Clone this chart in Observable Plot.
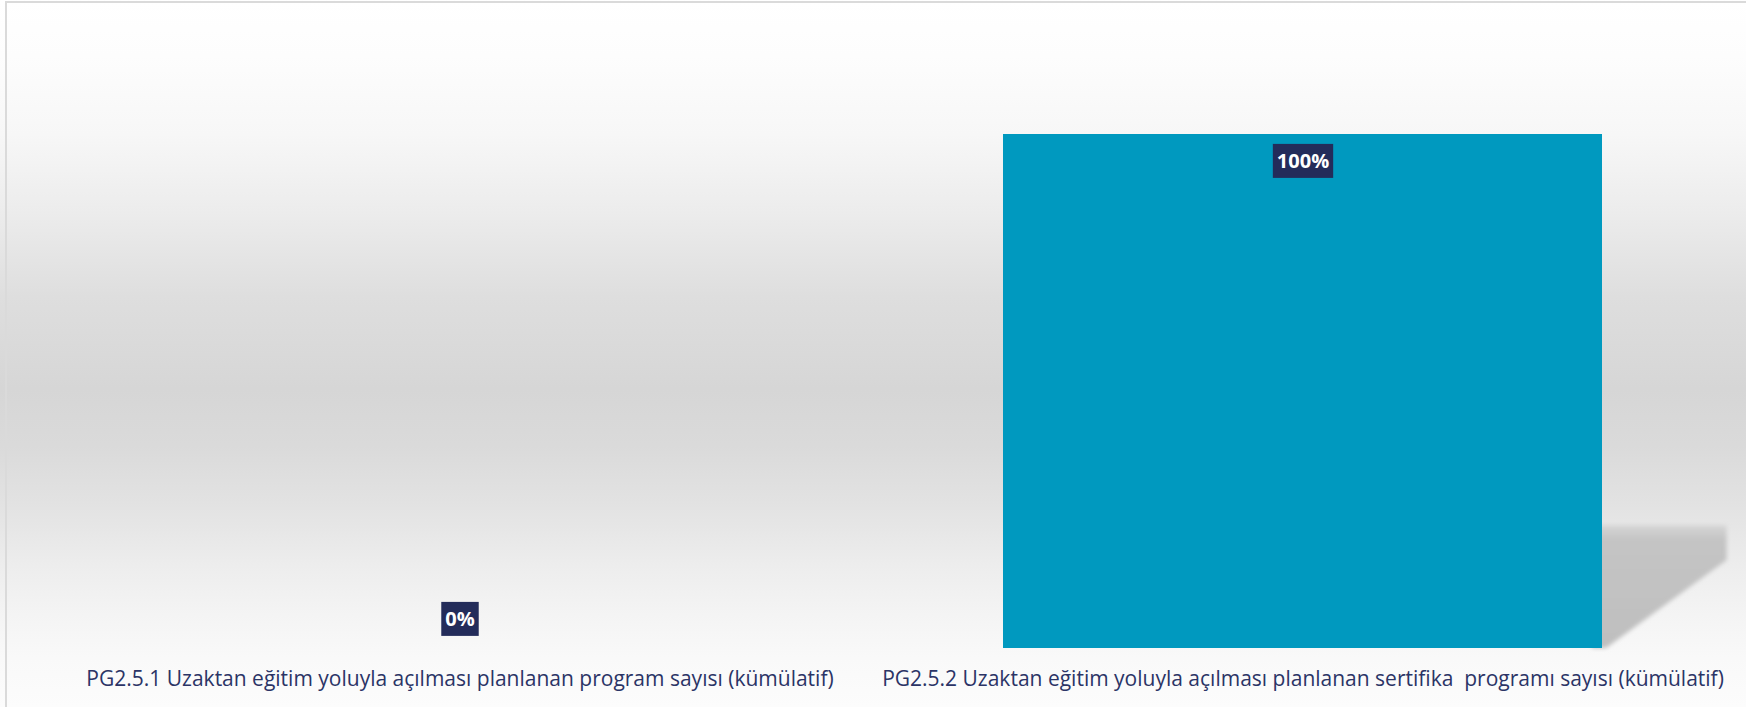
<!DOCTYPE html>
<html>
<head>
<meta charset="utf-8">
<script src="https://cdn.jsdelivr.net/npm/d3@7"></script>
<script src="https://cdn.jsdelivr.net/npm/@observablehq/plot@0.6"></script>
<style>
  html, body { margin: 0; padding: 0; background: #ffffff; }
  #wrap { position: relative; width: 1746px; height: 707px; overflow: hidden; }
  #border { position: absolute; left: 5px; top: 1px; width: 1760px; height: 720px;
            border-left: 2px solid #dadada; border-top: 2px solid #dadada; pointer-events: none; }
  svg text { white-space: pre; }
</style>
</head>
<body>
<div id="wrap"><div id="border"></div></div>
<script>
const categories = [
  "PG2.5.1 Uzaktan eğitim yoluyla açılması planlanan program sayısı (kümülatif)",
  "PG2.5.2 Uzaktan eğitim yoluyla açılması planlanan sertifika  programı sayısı (kümülatif)"
];
const values = [0, 100];
const valueLabels = ["0%", "100%"];

const data = categories.map((c, i) => ({category: c, value: values[i], label: valueLabels[i]}));

const ns = "http://www.w3.org/2000/svg";

// Excel-like perspective shadow behind the bar, derived from the rendered bar geometry
function shadowRender(index, scales, vals, dimensions, context, next) {
  const g = next(index, scales, vals, dimensions, context);
  const out = document.createElementNS(ns, "g");
  const defs = document.createElementNS(ns, "defs");
  defs.innerHTML = `
    <linearGradient id="shGrad" x1="0" y1="0" x2="0" y2="1">
      <stop offset="0" stop-color="#d6d6d6"/>
      <stop offset="0.12" stop-color="#c4c4c4"/>
      <stop offset="1" stop-color="#bfbfbf"/>
    </linearGradient>
    <filter id="shBlur" x="-20%" y="-20%" width="140%" height="140%">
      <feGaussianBlur stdDeviation="2.2"/>
    </filter>`;
  out.appendChild(defs);
  for (const r of g.querySelectorAll("rect")) {
    const x = +r.getAttribute("x"), y = +r.getAttribute("y");
    const w = +r.getAttribute("width"), h = +r.getAttribute("height");
    const x1 = x + w, bottom = y + h;
    const top = bottom - 0.239 * h;
    const right = x1 + 0.208 * w;
    const knee = bottom - 0.171 * h;
    const poly = document.createElementNS(ns, "polygon");
    poly.setAttribute("points",
      `${x1 - 10},${top} ${right},${top} ${right},${knee} ${x1 + 4},${bottom} ${x1 - 10},${bottom}`);
    poly.setAttribute("fill", "url(#shGrad)");
    poly.setAttribute("filter", "url(#shBlur)");
    out.appendChild(poly);
  }
  return out;
}

const bg = "linear-gradient(to bottom, #ffffff 0%, #fdfdfd 8%, #f7f7f7 19%, #ececec 30%, #dedede 42%, #d6d6d6 55%, #dadada 63%, #e3e3e3 72%, #ededed 80%, #f4f4f4 87%, #f9f9f9 93%, #fcfcfc 100%)";

const chart = Plot.plot({
  width: 1746,
  height: 707,
  marginTop: 134,
  marginBottom: 59,
  marginLeft: 33,
  marginRight: 18,
  style: {background: bg, fontFamily: "'Open Sans', sans-serif", overflow: "visible"},
  x: {domain: categories, paddingInner: 0.29, paddingOuter: 0.15, axis: null},
  y: {domain: [0, 100], axis: null},
  marks: [
    Plot.barY(data.filter(d => d.value > 0), {x: "category", y: "value", fill: "#bfbfbf", render: shadowRender}),
    Plot.barY(data, {x: "category", y: "value", fill: "#0099bf"}),
    Plot.axisX({tickSize: 0, tickPadding: 23, fontSize: 21, color: "#2b3466", label: null, fontFamily: "'Open Sans', sans-serif"}),
    Plot.text(data.filter(d => d.value > 0), {x: "category", y: "value", text: "label", dy: 27.5, lineAnchor: "middle",
      fill: "#ffffff", fontWeight: "bold", fontSize: 20}),
    Plot.text(data.filter(d => d.value === 0), {x: "category", y: "value", text: "label", dy: -28.5, lineAnchor: "middle",
      fill: "#ffffff", fontWeight: "bold", fontSize: 20})
  ]
});

document.getElementById("wrap").insertBefore(chart, document.getElementById("border"));

// Navy boxes behind data labels
const svgBox = chart.getBoundingClientRect();
chart.querySelectorAll('g[aria-label="text"]').forEach(grp => {
  const boxes = document.createElementNS(ns, "g");
  grp.querySelectorAll("text").forEach(t => {
    const r = t.getBoundingClientRect();
    const cx = r.x + r.width / 2 - svgBox.x;
    const cy = r.y + r.height / 2 - svgBox.y;
    const w = r.width + 8, h = 34;
    const rect = document.createElementNS(ns, "rect");
    rect.setAttribute("x", cx - w / 2);
    rect.setAttribute("y", cy - h / 2);
    rect.setAttribute("width", w);
    rect.setAttribute("height", h);
    rect.setAttribute("fill", "#232c5a");
    boxes.appendChild(rect);
  });
  grp.parentNode.insertBefore(boxes, grp);
});
</script>
</body>
</html>
